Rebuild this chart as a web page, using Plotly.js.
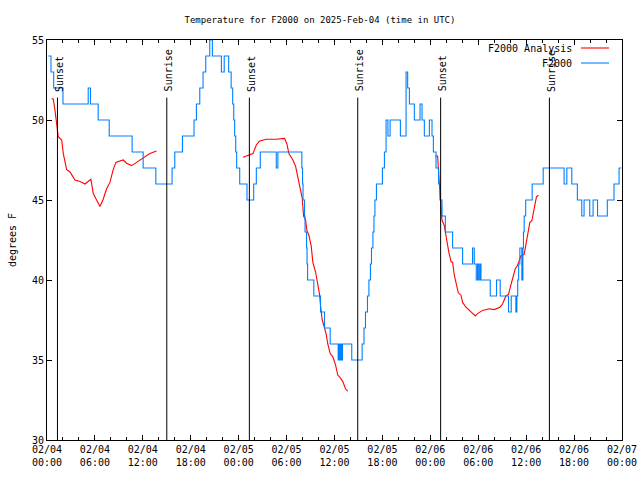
<!DOCTYPE html>
<html>
<head>
<meta charset="utf-8">
<script src="https://cdn.plot.ly/plotly-3.0.1.min.js"></script>
<style>html,body{margin:0;padding:0;background:#fff;}#chart{width:640px;height:480px;}</style>
</head>
<body>
<div id="chart"></div>
<script>
// Hours since 2025-02-04 00:00 UTC
const tickHours = [0, 6, 12, 18, 24, 30, 36, 42, 48, 54, 60, 66, 72];
const tickLabels = ['02/04<br>00:00','02/04<br>06:00','02/04<br>12:00','02/04<br>18:00',
  '02/05<br>00:00','02/05<br>06:00','02/05<br>12:00','02/05<br>18:00',
  '02/06<br>00:00','02/06<br>06:00','02/06<br>12:00','02/06<br>18:00','02/07<br>00:00'];

// Sun events (hours) and labels
const sunHours = [1.31, 15.0, 25.34, 38.91, 49.29, 62.91];
const sunLabels = ['Sunset','Sunrise','Sunset','Sunrise','Sunset','Sunrise'];

// F2000 observations (step changes)
const obsHours = [0.16,0.5,0.84,2.0,5.16,5.44,6.41,7.79,10.66,12.04,13.63,15.66,16.0,16.96,
  18.41,18.71,19.13,19.54,19.88,20.38,20.71,21.84,22.19,22.75,23.06,23.25,23.38,23.5,23.63,23.75,
  24.13,25.04,25.88,26.21,26.71,28.71,28.91,31.91,32.0,32.06,32.25,32.31,32.5,32.56,32.63,33.41,
  34.25,34.75,35.46,36.46,36.59,36.69,36.79,36.88,37.0,38.16,39.46,39.69,39.88,40.13,40.31,40.5,
  40.63,40.81,40.94,41.06,41.25,42.0,42.25,42.46,42.69,42.96,44.25,44.96,45.16,45.38,46.0,46.71,
  46.96,47.25,47.88,48.21,48.38,48.71,49.04,49.21,49.46,49.88,50.79,52.04,53.29,53.5,53.75,53.91,
  54.06,54.21,54.34,55.5,56.29,56.75,57.79,58.13,58.71,58.84,58.94,59.06,59.21,59.46,59.59,59.66,
  59.75,59.94,60.75,62.13,64.75,65.09,65.71,66.41,66.96,67.25,67.96,68.38,68.94,70.16,71.0,71.63,71.9];
const obsTemps = [54,53,52,51,52,51,50,49,48,47,46,47,48,49,
  50,51,52,53,54,55,54,53,54,53,52,51,50,49,48,47,
  46,45,46,47,48,47,48,47,46,45,44,43,42,41,40,39,
  38,37,36,35,36,35,36,35,36,35,36,37,38,39,40,41,
  42,43,44,45,46,47,48,50,49,50,49,53,52,51,50,51,
  50,49,50,49,48,47,46,45,44,43,42,41,42,41,40,41,
  40,41,40,39,40,39,38,39,38,39,40,41,42,40,42,43,
  44,45,46,47,46,47,46,45,44,45,44,45,44,45,46,47,47];

// F2000 Analysis (null marks gaps between runs)
const anaHours = [0.59,0.79,1.0,1.21,1.41,1.84,2.04,2.46,2.88,3.5,4.13,4.75,5.5,5.79,6.21,6.63,7.04,
  7.46,7.88,8.29,8.63,9.54,9.96,10.59,11.21,12.04,12.88,13.71, null,
  24.54,25.38,25.79,26.21,26.63,27.46,28.71,29.75,30.04,30.29,30.79,31.13,31.41,31.71,31.96,32.13,
  32.38,32.54,32.79,33.09,33.29,33.63,33.91,34.13,34.25,34.46,34.75,34.96,35.16,35.46,35.79,36.13,
  36.41,36.71,37.04,37.38,37.66, null,
  48.63,48.91,49.06,49.13,49.21,49.34,49.46,49.75,50.04,50.29,50.59,50.79,51.0,51.21,51.5,51.84,
  52.04,52.46,52.88,53.29,53.63,53.91,54.54,55.38,56.0,56.71,57.04,57.46,57.79,58.09,58.38,58.63,
  58.91,59.13,59.34,59.75,59.96,60.16,60.46,60.71,60.88,61.13,61.29,61.54];
const anaTemps = [51.35,51.3,50.6,49.75,48.96,48.75,47.9,46.9,46.75,46.25,46.15,46.0,46.3,45.4,45.0,44.6,45.05,
  45.7,46.1,46.9,47.35,47.5,47.3,47.15,47.35,47.65,47.9,48.06, null,
  47.67,47.8,47.9,48.44,48.69,48.8,48.8,48.85,48.5,47.9,47.5,47.1,46.4,45.8,45.1,44.0,
  43.75,43.1,42.8,42.1,41.1,40.5,39.8,39.1,38.4,37.5,37.0,36.6,36.0,35.4,35.2,34.7,
  34.06,33.9,33.65,33.2,33.06, null,
  47.75,47.75,46.5,45.9,45.4,44.5,43.75,43.4,42.5,41.8,41.15,41.1,40.3,39.8,39.2,39.05,
  38.6,38.3,38.1,37.9,37.75,37.9,38.1,38.2,38.15,38.3,38.5,39.0,39.1,39.7,40.3,40.7,
  40.9,41.25,41.5,41.6,42.2,42.8,43.6,43.7,44.1,44.6,45.2,45.3];

const seriesNames = ['F2000 Analysis', 'F2000'];
const seriesColors = ['#ff0000', '#0080ff'];

const FONT = 'DejaVu Sans Mono, Liberation Mono, monospace';

const traces = [
  {x: anaHours, y: anaTemps, type: 'scatter', mode: 'lines', name: seriesNames[0],
   line: {color: seriesColors[0], width: 1.1}, connectgaps: false, showlegend: false, hoverinfo: 'skip'},
  {x: obsHours, y: obsTemps, type: 'scatter', mode: 'lines', name: seriesNames[1],
   line: {color: seriesColors[1], width: 1.1, shape: 'hv'}, showlegend: false, hoverinfo: 'skip'}
];

const shapes = sunHours.map(h => ({type: 'line', xref: 'x', yref: 'y', x0: h, x1: h, y0: 30, y1: 51.4,
  line: {color: '#000', width: 1}}));
const annotations = sunHours.map((h, i) => ({xref: 'x', yref: 'y', x: h, y: 51.4, text: sunLabels[i],
  textangle: -90, showarrow: false, xanchor: 'center', yanchor: 'bottom', xshift: 2, yshift: 4,
  font: {family: FONT, size: 10, color: '#000'}}));

// manual legend (right aligned text, sample line on the right)
const legY = [0.98, 0.9425];
seriesNames.forEach((n, i) => {
  annotations.push({xref: 'paper', yref: 'paper', x: 0.9165, y: legY[i], text: n, showarrow: false,
    xanchor: 'right', yanchor: 'middle', font: {family: FONT, size: 10, color: '#000'}});
  shapes.push({type: 'line', xref: 'paper', yref: 'paper', x0: 0.9287, x1: 0.9774, y0: legY[i], y1: legY[i],
    line: {color: seriesColors[i], width: 1.1}});
});

const layout = {
  width: 640, height: 480,
  margin: {l: 47, r: 18, t: 40, b: 40},
  paper_bgcolor: '#fff', plot_bgcolor: '#fff',
  font: {family: FONT, size: 10, color: '#000'},
  title: {text: 'Temperature for F2000 on 2025-Feb-04 (time in UTC)', xref: 'container', x: 0.5,
    y: 0.959, yanchor: 'middle', font: {family: FONT, size: 9, color: '#000'}},
  xaxis: {range: [0, 72], tickvals: tickHours, ticktext: tickLabels, showgrid: false, zeroline: false,
    showline: true, linecolor: '#000', linewidth: 1, mirror: 'ticks', ticks: 'inside', ticklen: 5,
    tickcolor: '#000', tickfont: {family: FONT, size: 10},
    minor: {dtick: 2, tick0: 0, ticks: 'inside', ticklen: 3, tickcolor: '#000'}},
  yaxis: {range: [30, 55], dtick: 5, tick0: 30, showgrid: false, zeroline: false,
    showline: true, linecolor: '#000', linewidth: 1, mirror: 'ticks', ticks: 'inside', ticklen: 5,
    tickcolor: '#000', tickfont: {family: FONT, size: 10},
    title: {text: 'degrees F', font: {family: FONT, size: 10}, standoff: 13}},
  shapes: shapes,
  annotations: annotations,
  showlegend: false
};

Plotly.newPlot('chart', traces, layout, {displayModeBar: false, staticPlot: true});
</script>
</body>
</html>
